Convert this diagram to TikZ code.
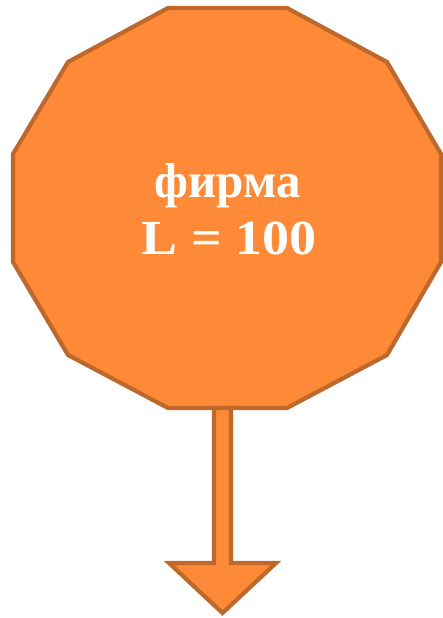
\documentclass[tikz,border=0pt]{standalone}
\usepackage{fontspec}
\usepackage{graphicx}
\setmainfont{Liberation Serif}
\definecolor{ofill}{HTML}{FE8A38}
\definecolor{oline}{HTML}{BE682B}
\begin{document}
\begin{tikzpicture}[x=1pt,y=-1pt,
  shapestyle/.style={fill=ofill,draw=oline,line width=4.2pt,line join=miter},
  lbl/.style={text=white,font=\bfseries\fontsize{49}{57}\selectfont,anchor=base,inner sep=0pt}]
\useasboundingbox (0,0) rectangle (443,618);
\draw[shapestyle] (168,8) -- (287,8) -- (387,62) -- (441,154) -- (441,262) -- (387,355)
  -- (287,408) -- (168,408) -- (68,355) -- (13,262) -- (13,154) -- (68,62) -- cycle;
\draw[shapestyle] (214,408) -- (231,408) -- (231,563) -- (276,563) -- (222.5,613)
  -- (169,563) -- (214,563) -- cycle;
\node[lbl] (firm) at (227.5,197) {фирма};
\node[lbl] (labour) at (229,254) {\scalebox{1.1}[1]{L = 100}};
\end{tikzpicture}
\end{document}
